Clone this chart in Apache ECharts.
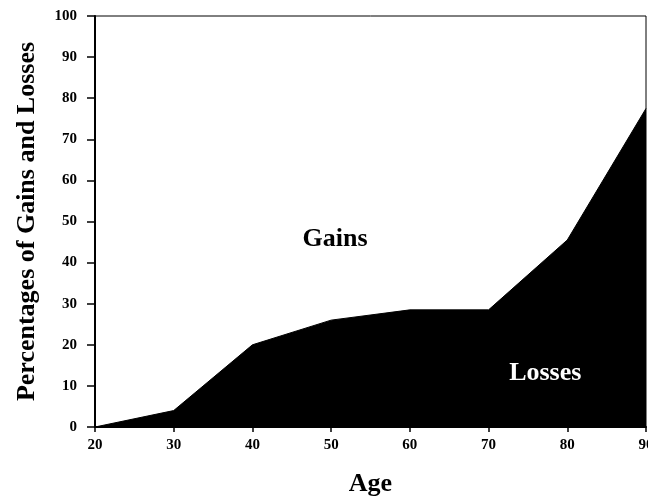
<!DOCTYPE html>
<html><head><meta charset="utf-8">
<script src="https://cdn.jsdelivr.net/npm/echarts@6/dist/echarts.min.js"></script>
<style>html,body{margin:0;padding:0;background:#fff}#c{width:648px;height:498px}</style>
</head><body><div id="c"></div>
<script>
var ages = [20, 30, 40, 50, 60, 70, 80, 90];
var losses = [0, 4, 20, 26, 28.5, 28.5, 45.5, 77.5];
var yTicks = [0, 10, 20, 30, 40, 50, 60, 70, 80, 90, 100];
var regionLabels = [
  {name: 'Gains', pos: [50.5, 45.7], color: '#000'},
  {name: 'Losses', pos: [77.2, 13.1], color: '#fff'}
];
var font = '"Liberation Serif", "Times New Roman", serif';
var chart = echarts.init(document.getElementById('c'));
chart.setOption({
  animation: false,
  backgroundColor: '#fff',
  grid: {left: 95, right: 2, top: 16, bottom: 71, show: true, borderColor: '#000', borderWidth: 1,
         outerBoundsMode: 'none', containLabel: false},
  xAxis: {
    type: 'value', min: 20, max: 90, interval: 10,
    name: 'Age', nameLocation: 'middle', nameGap: 44,
    nameTextStyle: {fontFamily: font, fontWeight: 'bold', fontSize: 26, color: '#000'},
    axisLine: {show: true, lineStyle: {color: '#000', width: 2}},
    axisTick: {show: true, length: 5, lineStyle: {color: '#000', width: 1.5}},
    axisLabel: {fontFamily: font, fontWeight: 'bold', fontSize: 15, color: '#000', margin: 11},
    splitLine: {show: false}
  },
  yAxis: {
    type: 'value', min: 0, max: 100, interval: 10,
    name: 'Percentages of Gains and Losses', nameLocation: 'middle', nameGap: 55,
    nameTextStyle: {fontFamily: font, fontWeight: 'bold', fontSize: 26, color: '#000'},
    axisLine: {show: true, lineStyle: {color: '#000', width: 2}},
    axisTick: {show: true, length: 8, lineStyle: {color: '#000', width: 1.5}},
    axisLabel: {fontFamily: font, fontWeight: 'bold', fontSize: 15, color: '#000', margin: 18,
      formatter: function(v){ return yTicks.indexOf(v) >= 0 ? String(v) : ''; }},
    splitLine: {show: false}
  },
  series: [
    {
      type: 'line',
      data: ages.map(function(a, i){ return [a, losses[i]]; }),
      symbol: 'none',
      lineStyle: {color: '#000', width: 1},
      areaStyle: {color: '#000', opacity: 1},
      z: 2
    },
    {
      type: 'scatter',
      symbolSize: 0,
      itemStyle: {opacity: 1},
      data: regionLabels.map(function(r){
        return {value: r.pos, name: r.name,
          label: {show: true, position: 'inside', formatter: r.name, color: r.color, opacity: 1,
            fontFamily: font, fontWeight: 'bold', fontSize: 26}};
      }),
      z: 5
    }
  ]
});
</script></body></html>
